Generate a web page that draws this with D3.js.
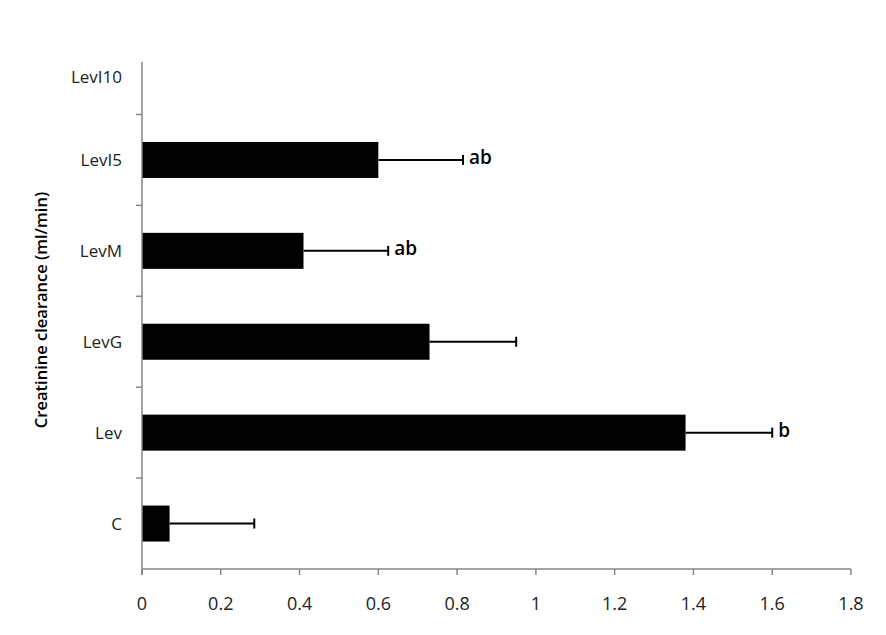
<!DOCTYPE html>
<html><head><meta charset="utf-8">
<script src="https://cdn.jsdelivr.net/npm/d3@7"></script>
<style>body{margin:0;background:#fff}</style>
</head><body>
<svg id="c" width="886" height="635"></svg>
<script>
const categories = ["C","Lev","LevG","LevM","LevI5","LevI10"];
const values = [0.07, 1.38, 0.73, 0.41, 0.60, null];
const errors = [0.215, 0.22, 0.22, 0.215, 0.215, null];
const letters = ["", "b", "", "ab", "ab", ""];
const xTicks = [0,0.2,0.4,0.6,0.8,1,1.2,1.4,1.6,1.8];
const yTitle = "Creatinine clearance (ml/min)";

const svg = d3.select("#c");
const font = "'Open Sans', 'Liberation Sans', sans-serif";
const left = 142, right = 851, bottom = 569, axisTop = 62;
const bandH = 90.9;
const x = d3.scaleLinear().domain([0,1.8]).range([left,right]);
const y = d3.scaleBand().domain(categories).range([bottom, bottom - bandH*categories.length]).paddingInner(0.6).paddingOuter(0.3);
const cy = c => y(c) + y.bandwidth()/2;

const data = categories.map((c,i)=>({c, v:values[i], e:errors[i], l:letters[i]})).filter(d=>d.v!=null);

// bars
svg.selectAll("rect.bar").data(data).enter().append("rect").attr("class","bar")
  .attr("x", x(0)).attr("y", d=>cy(d.c)-18)
  .attr("width", d=>x(d.v)-x(0)).attr("height", 36).attr("fill","#000");

// error bars
const eg = svg.selectAll("g.err").data(data).enter().append("g").attr("class","err");
eg.append("line").attr("x1", d=>x(d.v)).attr("x2", d=>x(d.v+d.e))
  .attr("y1", d=>cy(d.c)).attr("y2", d=>cy(d.c))
  .attr("stroke","#000").attr("stroke-width",2);
eg.append("line").attr("x1", d=>x(d.v+d.e)).attr("x2", d=>x(d.v+d.e))
  .attr("y1", d=>cy(d.c)-5).attr("y2", d=>cy(d.c)+5)
  .attr("stroke","#000").attr("stroke-width",2);
eg.append("text").attr("x", d=>x(d.v+d.e)+6).attr("y", d=>cy(d.c)+4)
  .attr("font-family",font).attr("font-size",19).attr("font-weight","600")
  .text(d=>d.l);

// x axis
const axc = "#868686";
svg.append("line").attr("x1",left).attr("x2",right).attr("y1",bottom).attr("y2",bottom).attr("stroke",axc).attr("stroke-width",1.5);
svg.selectAll("line.xt").data(xTicks).enter().append("line").attr("class","xt")
  .attr("x1",d=>x(d)).attr("x2",d=>x(d)).attr("y1",bottom).attr("y2",bottom+6).attr("stroke",axc).attr("stroke-width",1.5);
svg.selectAll("text.xl").data(xTicks).enter().append("text").attr("class","xl")
  .attr("x",d=>x(d)).attr("y",610).attr("text-anchor","middle")
  .attr("font-family",font).attr("font-size",18).attr("fill","#222").text(d=>d);

// y axis
svg.append("line").attr("x1",left).attr("x2",left).attr("y1",axisTop).attr("y2",bottom+6).attr("stroke",axc).attr("stroke-width",1.5);
const bounds = categories.map(c=>y(c)-(y.step()-y.bandwidth())/2).filter(v=>v>axisTop);
svg.selectAll("line.yt").data(bounds).enter().append("line").attr("class","yt")
  .attr("x1",left-6).attr("x2",left).attr("y1",d=>d).attr("y2",d=>d).attr("stroke",axc).attr("stroke-width",1.5);
svg.selectAll("text.yl").data(categories).enter().append("text").attr("class","yl")
  .attr("x",left-20).attr("y",c=>Math.max(cy(c), axisTop+15)+6).attr("text-anchor","end")
  .attr("font-family",font).attr("font-size",17).attr("fill","#222").text(c=>c);

// title
svg.append("text").attr("transform","translate(47,310) rotate(-90)").attr("text-anchor","middle")
  .attr("font-family",font).attr("font-size",16.5).attr("font-weight","600").attr("fill","#000").text(yTitle);
</script>
</body></html>
